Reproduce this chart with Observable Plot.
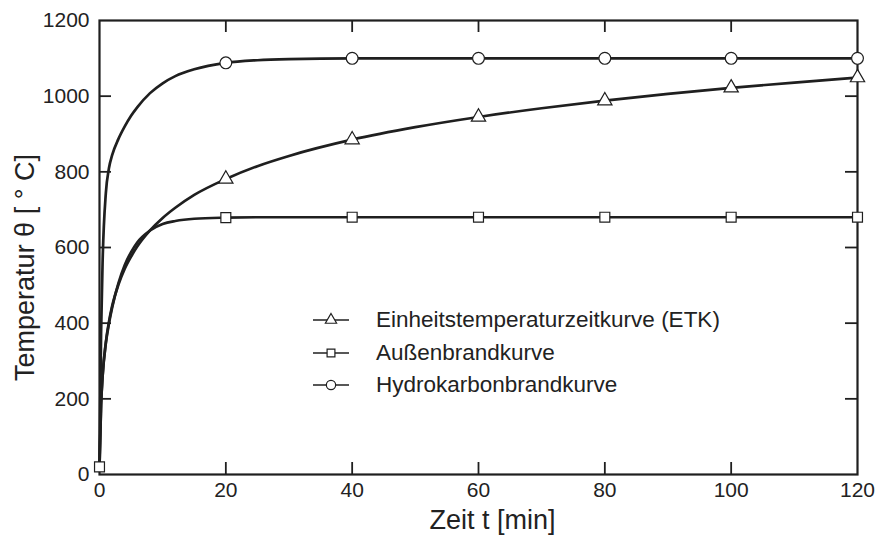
<!DOCTYPE html>
<html>
<head>
<meta charset="utf-8">
<script src="https://cdn.jsdelivr.net/npm/d3@7"></script>
<script src="https://cdn.jsdelivr.net/npm/@observablehq/plot@0.6"></script>
<style>
  body { margin: 0; background: #fff; }
  #wrap { position: relative; width: 877px; height: 535px; font-family: "Liberation Sans", Arial, sans-serif; color: #222; }
  #legend { position: absolute; left: 312px; top: 304px; font-size: 22.5px; }
  #legend .row { display: flex; align-items: center; height: 32.5px; }
  #legend svg { display: block; }
  #legend span { margin-left: 26px; }
</style>
</head>
<body>
<div id="wrap"></div>
<script>
// time points [min]
const times = [0, 0.25, 0.5, 1, 1.5, 2, 3, 4, 5, 6, 8, 10, 12, 15, 20, 25, 30, 40, 50, 60, 70, 80, 90, 100, 110, 120];
// Einheitstemperaturzeitkurve (ETK) [°C]
const etk = [20, 185, 261, 349, 404, 445, 502, 544, 576, 603, 645, 678, 705, 739, 781, 815, 842, 885, 918, 945, 968, 988, 1006, 1022, 1036, 1049];
// Außenbrandkurve [°C]
const aussen = [20, 182, 263, 346, 399, 441, 506, 554, 588, 614, 645, 662, 670, 676, 679, 680, 680, 680, 680, 680, 680, 680, 680, 680, 680, 680];
// Hydrokarbonbrandkurve [°C]
const hydro = [20, 373, 568, 743, 810, 844, 887, 920, 948, 971, 1008, 1034, 1053, 1071, 1088, 1095, 1098, 1100, 1100, 1100, 1100, 1100, 1100, 1100, 1100, 1100];

const markerTimesETK = [20, 40, 60, 80, 100, 120];
const markerTimesAussen = [0, 20, 40, 60, 80, 100, 120];
const markerTimesHydro = [20, 40, 60, 80, 100, 120];

const seriesNames = ["Einheitstemperaturzeitkurve (ETK)", "Außenbrandkurve", "Hydrokarbonbrandkurve"];
const seriesSymbols = ["triangle", "square", "circle"];
const seriesR = [5.3, 5.6, 5.9];

const xTicks = [0, 20, 40, 60, 80, 100, 120];
const yTicks = [0, 200, 400, 600, 800, 1000, 1200];
const xInner = [20, 40, 60, 80, 100];
const yInner = [200, 400, 600, 800, 1000];

const xLabel = "Zeit t [min]";
const yLabel = "Temperatur θ [ ° C]";

const toRows = (vals) => times.map((t, i) => ({t, v: vals[i]}));
const rowsETK = toRows(etk), rowsAussen = toRows(aussen), rowsHydro = toRows(hydro);
const pick = (rows, ts) => rows.filter(d => ts.includes(d.t));

const ink = "#1f1f1f";
const lineOpts = {x: "t", y: "v", curve: "monotone-x", stroke: ink, strokeWidth: 2.7};
const dotOpts = (i) => ({x: "t", y: "v", symbol: () => seriesSymbols[i], r: seriesR[i], fill: "white", stroke: ink, strokeWidth: 1.2});

const plot = Plot.plot({
  width: 877,
  height: 535,
  marginLeft: 99,
  marginRight: 20,
  marginTop: 20,
  marginBottom: 61,
  style: {fontFamily: "Liberation Sans, Arial, sans-serif", color: "#222", background: "white"},
  x: {domain: [0, 120]},
  y: {domain: [0, 1200]},
  symbol: {type: "identity"},
  marks: [
    Plot.axisX({ticks: xTicks, tickSize: 0, tickPadding: 8, label: null, fontSize: 21, tickFormat: d => String(d)}),
    Plot.axisY({ticks: yTicks, tickSize: 0, tickPadding: 10, label: null, fontSize: 21, tickFormat: d => String(d)}),
    Plot.ruleX(xInner, {insetTop: 442, stroke: ink, strokeWidth: 1.8}),
    Plot.ruleX(xInner, {insetBottom: 442, stroke: ink, strokeWidth: 1.8}),
    Plot.ruleY(yInner, {insetRight: 746, stroke: ink, strokeWidth: 1.8}),
    Plot.ruleY(yInner, {insetLeft: 746, stroke: ink, strokeWidth: 1.8}),
    Plot.line(rowsETK, lineOpts),
    Plot.line(rowsAussen, lineOpts),
    Plot.line(rowsHydro, lineOpts),
    Plot.frame({stroke: ink, strokeWidth: 2.2}),
    Plot.dot(pick(rowsETK, markerTimesETK), dotOpts(0)),
    Plot.dot(pick(rowsHydro, markerTimesHydro), dotOpts(2)),
    Plot.dot(pick(rowsAussen, markerTimesAussen), dotOpts(1)),
    Plot.text([xLabel], {frameAnchor: "bottom", textAnchor: "middle", dy: 46, dx: 14, fontSize: 27, lineAnchor: "middle", fill: "#222"}),
    Plot.text([yLabel], {frameAnchor: "left", textAnchor: "middle", rotate: -90, dx: -74, dy: 20, fontSize: 27, lineAnchor: "middle", fill: "#222"})
  ]
});

const wrap = document.getElementById("wrap");
wrap.appendChild(plot);

// legend
const legend = document.createElement("div");
legend.id = "legend";
const symMap = {triangle: d3.symbolTriangle, square: d3.symbolSquare, circle: d3.symbolCircle};
seriesNames.forEach((name, i) => {
  const row = document.createElement("div");
  row.className = "row";
  const svg = d3.create("svg").attr("width", 38).attr("height", 20);
  svg.append("line").attr("x1", 1).attr("x2", 37).attr("y1", 10).attr("y2", 10).attr("stroke", ink).attr("stroke-width", 1.6);
  svg.append("path")
    .attr("d", d3.symbol(symMap[seriesSymbols[i]], Math.PI * seriesR[i] * seriesR[i] * 0.62)())
    .attr("transform", "translate(19,10)")
    .attr("fill", "white").attr("stroke", ink).attr("stroke-width", 1.2);
  row.appendChild(svg.node());
  const span = document.createElement("span");
  span.textContent = name;
  row.appendChild(span);
  legend.appendChild(row);
});
wrap.appendChild(legend);
</script>
</body>
</html>
